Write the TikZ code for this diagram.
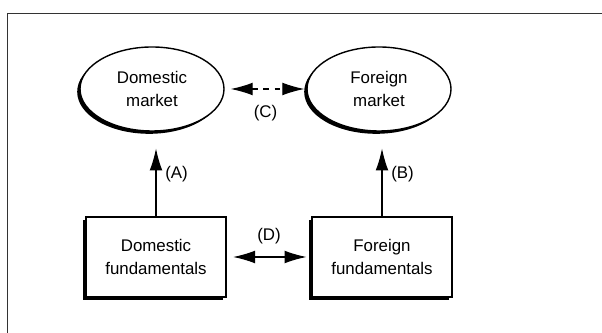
\documentclass[tikz,border=0pt]{standalone}
\usepackage{fontspec}
\setmainfont{Liberation Sans}
\usepackage{tikz}
\usetikzlibrary{shapes.geometric,arrows.meta,shadows}

\tikzset{
  txt/.style={font=\fontsize{12}{16}\selectfont},
  mkt/.style={txt, ellipse, draw, line width=1pt, fill=white, align=center, inner sep=0pt,
     minimum width=3.6cm, minimum height=2.1cm,
     drop shadow={shadow xshift=-2pt, shadow yshift=-2pt, opacity=1, fill=black}},
  fund/.style={txt, rectangle, draw, line width=1pt, fill=white, align=center,
     minimum width=3.5cm, minimum height=2cm,
     drop shadow={shadow xshift=-2pt, shadow yshift=-2pt, opacity=1, fill=black}},
  lnk/.style={line width=0.8pt, -{Latex[length=5.5mm,width=3.2mm]}},
  lnkboth/.style={line width=0.8pt, {Latex[length=5.5mm,width=3.2mm]}-{Latex[length=5.5mm,width=3.2mm]}},
  lbl/.style={txt}
}

\begin{document}
\begin{tikzpicture}
  \useasboundingbox (0,0) rectangle (15.05,8.325);
  \draw[line width=0.6pt, black!80] (0.175,0) |- (15.05,8.0);
   \node[mkt] (dm) at (3.8,6.1) {Domestic\\market};
   \node[mkt] (fm) at (9.475,6.1) {Foreign\\market};
    \node[fund] (df) at (3.9,1.9) {Domestic\\fundamentals};
    \node[fund] (ff) at (9.55,1.9) {Foreign\\fundamentals};
  \draw[lnk, shorten >=0.42cm] (df.north) -- (df.north |- dm.south) node[lbl, midway, right=1mm] {(A)};
  \draw[lnk, shorten >=0.42cm] (ff.north) -- (ff.north |- fm.south) node[lbl, midway, right=1mm] {(B)};
   \draw[lnkboth, dash pattern=on 4pt off 4pt, shorten <=0.15cm, shorten >=0.05cm] (dm.east) -- (fm.west) node[lbl, midway, below=2.8mm] {(C)};
   \draw[lnkboth, shorten <=0.16cm, shorten >=0.12cm] (df.east) -- (ff.west) node[lbl, midway, above=2mm] {(D)};
\end{tikzpicture}
\end{document}
